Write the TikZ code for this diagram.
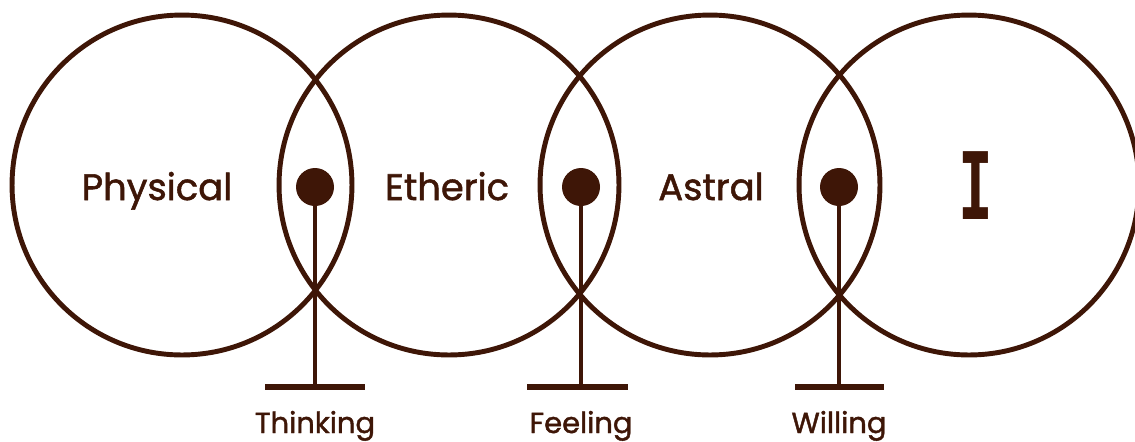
\documentclass[tikz,border=0pt]{standalone}
\usepackage{fontspec}
\setmainfont{Poppins}[BoldFont=Poppins,BoldFeatures={FakeBold=1.4}]
\newfontfamily\slabfont{DejaVu Sans Mono}
\usetikzlibrary{positioning}
\definecolor{bark}{HTML}{3E1607}

\begin{document}
\begin{tikzpicture}[
  x=0.02cm, y=-0.02cm,
  node distance=0.2cm,
  ring/.style={draw=bark,line width=2.8pt,circle,minimum size=6.8cm,inner sep=0pt},
  body/.style={text=bark,font=\bfseries\fontsize{21}{24}\selectfont,inner sep=0pt,anchor=base},
  knot/.style={fill=bark,circle,minimum size=0.76cm,inner sep=0pt},
  stem/.style={draw=bark,line width=2.8pt},
  base/.style={draw=bark,line width=3.4pt},
  faculty/.style={text=bark,font=\bfseries\fontsize{16.5}{20}\selectfont,inner sep=0pt}
]
\useasboundingbox (0,0) rectangle (1135,441);
\node[ring] (physical) at (182,185) {};
\node[ring] (etheric) at (449,185) {};
\node[ring] (astral) at (710,185) {};
\node[ring] (ego) at (969,185) {};
\node[body] (tphys) at (157,200) {Physical};
\node[body] (tether) at (447,200) {Etheric};
\node[body] (tastr) at (711,200) {Astral};
\node[text=bark,inner sep=0pt,anchor=base,font=\slabfont\bfseries\fontsize{53}{56}\selectfont] (tego) at (976,219) {\scalebox{0.62}[1]{I}};
\node[knot] (think) at (315,187) {};
\node[knot] (feel) at (581,187) {};
\node[knot] (will) at (839,187) {};
\coordinate (thinkbase) at (315,387);
\coordinate (feelbase) at (581,387);
\coordinate (willbase) at (839,387);
\draw[stem] (think) -- (thinkbase);
\draw[stem] (feel) -- (feelbase);
\draw[stem] (will) -- (willbase);
\draw[base] ([xshift=-1cm]thinkbase) -- ([xshift=1cm]thinkbase);
\draw[base] ([xshift=-1.08cm]feelbase) -- ([xshift=0.94cm]feelbase);
\draw[base] ([xshift=-0.88cm]willbase) -- ([xshift=0.9cm]willbase);
\node[faculty,below=0.92cm of thinkbase,anchor=base] (tthink) {Thinking};
\node[faculty,below=0.92cm of feelbase,anchor=base] (tfeel) {Feeling};
\node[faculty,below=0.92cm of willbase,anchor=base] (twill) {Willing};
\end{tikzpicture}
\end{document}
